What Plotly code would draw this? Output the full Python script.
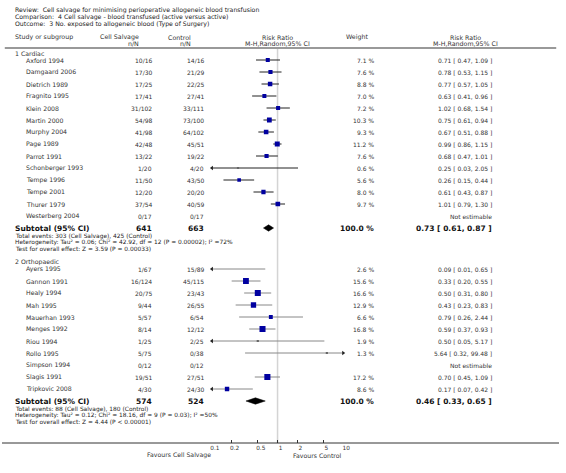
import plotly.graph_objects as go

W, H = 566, 473

# ---------------- data ----------------
title_lines = [
    "Review:  Cell salvage for minimising perioperative allogeneic blood transfusion",
    "Comparison:  4 Cell salvage - blood transfused (active versus active)",
    "Outcome:  3 No. exposed to allogeneic blood (Type of Surgery)",
]

g1_name = "1 Cardiac"
g1_studies = ["Axford 1994", "Damgaard 2006", "Dietrich 1989", "Fragnito 1995", "Klein 2008",
              "Martin 2000", "Murphy 2004", "Page 1989", "Parrot 1991", "Schonberger 1993",
              "Tempe 1996", "Tempe 2001", "Thurer 1979", "Westerberg 2004"]
g1_cs = ["10/16", "17/30", "17/25", "17/41", "31/102", "54/98", "41/98", "42/48", "13/22",
         "1/20", "11/50", "12/20", "37/54", "0/17"]
g1_ctrl = ["14/16", "21/29", "22/25", "27/41", "33/111", "73/100", "64/102", "45/51", "19/22",
           "4/20", "43/50", "20/20", "40/59", "0/17"]
g1_weight = [7.1, 7.6, 8.8, 7.0, 7.2, 10.3, 9.3, 11.2, 7.6, 0.6, 5.6, 8.0, 9.7, None]
g1_rr = [0.71, 0.78, 0.77, 0.63, 1.02, 0.75, 0.67, 0.99, 0.68, 0.25, 0.26, 0.61, 1.01, None]
g1_lo = [0.47, 0.53, 0.57, 0.41, 0.68, 0.61, 0.51, 0.86, 0.47, 0.03, 0.15, 0.43, 0.79, None]
g1_hi = [1.09, 1.15, 1.05, 0.96, 1.54, 0.94, 0.88, 1.15, 1.01, 2.05, 0.44, 0.87, 1.30, None]
g1_sub = dict(cs="641", ctrl="663", weight=100.0, rr=0.73, lo=0.61, hi=0.87)
g1_foot = ["Total events: 303 (Cell Salvage), 425 (Control)",
           "Heterogeneity: Tau² = 0.06; Chi² = 42.92, df = 12 (P = 0.00002); I² =72%",
           "Test for overall effect: Z = 3.59 (P = 0.00033)"]

g2_name = "2 Orthopaedic"
g2_studies = ["Ayers 1995", "Gannon 1991", "Healy 1994", "Mah 1995", "Mauerhan 1993",
              "Menges 1992", "Riou 1994", "Rollo 1995", "Simpson 1994", "Slagis 1991",
              "Tripkovic 2008"]
g2_cs = ["1/67", "16/124", "20/75", "9/44", "5/57", "8/14", "1/25", "5/75", "0/12", "19/51", "4/30"]
g2_ctrl = ["15/89", "45/115", "23/43", "26/55", "6/54", "12/12", "2/25", "0/38", "0/12", "27/51", "24/30"]
g2_weight = [2.6, 15.6, 16.6, 12.9, 6.6, 16.8, 1.9, 1.3, None, 17.2, 8.6]
g2_rr = [0.09, 0.33, 0.50, 0.43, 0.79, 0.59, 0.50, 5.64, None, 0.70, 0.17]
g2_lo = [0.01, 0.20, 0.31, 0.23, 0.26, 0.37, 0.05, 0.32, None, 0.45, 0.07]
g2_hi = [0.65, 0.55, 0.80, 0.83, 2.44, 0.93, 5.17, 99.48, None, 1.09, 0.42]
g2_sub = dict(cs="574", ctrl="524", weight=100.0, rr=0.46, lo=0.33, hi=0.65)
g2_foot = ["Total events: 88 (Cell Salvage), 180 (Control)",
           "Heterogeneity: Tau² = 0.12; Chi² = 18.16, df = 9 (P = 0.03); I² =50%",
           "Test for overall effect: Z = 4.44 (P < 0.00001)"]

tick_vals = [0.1, 0.2, 0.5, 1, 2, 5, 10]
tick_text = ["0.1", "0.2", "0.5", "1", "2", "5", "10"]
left_label = "Favours Cell Salvage"
right_label = "Favours Control"
AX_MIN, AX_MAX = 0.1, 10

# ---------------- layout constants (pixels) ----------------
FONT = "DejaVu Sans"
ROW = 12
X_NAME_GRP = 12
X_NAME = 23
X_CS = 153
X_CTRL = 206
X_W = 379
X_RR = 499
PLOT_L, PLOT_R = 213.3, 346.7
Y_AXIS = 443
Y_HEADLINE = 48
FOOT_STEP = 6.6

fig = go.Figure()
ann = []


def text(x, y, s, size=6.0, anchor="left", bold=False, color="#333"):
    ann.append(dict(x=x / W, xref="paper", y=y, yref="y", text=("<b>%s</b>" % s) if bold else s,
                    showarrow=False, xanchor=anchor, yanchor="middle", borderpad=0,
                    font=dict(family=FONT, size=size, color=color)))


def fmt_ci(rr, lo, hi):
    return "%.2f [ %.2f, %.2f ]" % (rr, lo, hi)


# title
for i, s in enumerate(title_lines):
    text(X_NAME_GRP, 10 + 7 * i, s, size=6.2, color="#222")

# header
HS = 6.3
text(X_NAME_GRP, 37, "Study or subgroup", size=HS)
text(140, 37, "Cell Salvage", size=HS, anchor="right")
text(140, 43, "n/N", size=HS, anchor="right")
text(193, 37, "Control", size=HS, anchor="right")
text(193, 43, "n/N", size=HS, anchor="right")
text((PLOT_L + PLOT_R) / 2, 37, "Risk Ratio", size=HS, anchor="center")
text((PLOT_L + PLOT_R) / 2, 43, "M-H,Random,95% CI", size=HS, anchor="center")
text(361, 37, "Weight", size=HS, anchor="center")
text(471, 37, "Risk Ratio", size=HS, anchor="center")
text(471, 43, "M-H,Random,95% CI", size=HS, anchor="center")


def draw_group(name, y_label, studies, cs, ctrl, weight, rr, lo, hi, sub, foot, line_color):
    text(X_NAME_GRP, y_label, name, size=6.2)
    y0 = y_label + 7
    for i, st in enumerate(studies):
        y = y0 + ROW * i
        text(X_NAME, y, st, size=6.2)
        text(X_CS, y, cs[i], size=6, anchor="right")
        text(X_CTRL, y, ctrl[i], size=6, anchor="right")
        if rr[i] is None:
            text(X_RR, y, "Not estimable", size=6, anchor="right")
            continue
        text(X_W, y, "%.1f %%" % weight[i], size=6, anchor="right")
        text(X_RR, y, fmt_ci(rr[i], lo[i], hi[i]), size=6, anchor="right")
        # CI line
        fig.add_trace(go.Scatter(x=[lo[i], hi[i]], y=[y, y], mode="lines",
                                 line=dict(color=line_color, width=1), hoverinfo="skip"))
        # arrows where CI leaves axis range
        if lo[i] < AX_MIN:
            fig.add_trace(go.Scatter(x=[AX_MIN], y=[y], mode="markers", cliponaxis=False,
                                     marker=dict(symbol="triangle-left", size=4, color="#222"),
                                     hoverinfo="skip"))
        if hi[i] > AX_MAX:
            fig.add_trace(go.Scatter(x=[AX_MAX], y=[y], mode="markers", cliponaxis=False,
                                     marker=dict(symbol="triangle-right", size=4, color="#222"),
                                     hoverinfo="skip"))
        # square
        if AX_MIN <= rr[i] <= AX_MAX:
            sz = 1.4 * weight[i] ** 0.5 + 0.3
            col = "#0000a0" if weight[i] >= 2.5 else "#666"
            fig.add_trace(go.Scatter(x=[rr[i]], y=[y], mode="markers",
                                     marker=dict(symbol="square", size=max(sz, 2.2), color=col,
                                                 line=dict(width=0)),
                                     hoverinfo="skip"))
    ys = y0 + ROW * len(studies)
    text(X_NAME_GRP, ys, "Subtotal (95% CI)", size=7.5, bold=True, color="#111")
    text(X_CS, ys, sub["cs"], size=7.5, anchor="right", bold=True, color="#111")
    text(X_CTRL, ys, sub["ctrl"], size=7.5, anchor="right", bold=True, color="#111")
    text(X_W, ys, "%.1f %%" % sub["weight"], size=7.5, anchor="right", bold=True, color="#111")
    text(X_RR, ys, fmt_ci(sub["rr"], sub["lo"], sub["hi"]), size=7.5, anchor="right", bold=True,
         color="#111")
    dh = 3.2
    fig.add_trace(go.Scatter(x=[sub["lo"], sub["rr"], sub["hi"], sub["rr"], sub["lo"]],
                             y=[ys, ys - dh, ys, ys + dh, ys], mode="lines", fill="toself",
                             fillcolor="#000", line=dict(color="#000", width=0.5),
                             hoverinfo="skip"))
    for k, s in enumerate(foot):
        text(X_NAME_GRP, ys + 8.2 + FOOT_STEP * k, s, size=5.9, color="#222")


draw_group(g1_name, 53, g1_studies, g1_cs, g1_ctrl, g1_weight, g1_rr, g1_lo, g1_hi,
           g1_sub, g1_foot, "#222")
draw_group(g2_name, 262, g2_studies, g2_cs, g2_ctrl, g2_weight, g2_rr, g2_lo, g2_hi,
           g2_sub, g2_foot, "#888")

# bottom labels
text(PLOT_L, 455, left_label, size=6.2, anchor="right")
text(PLOT_R, 455, right_label, size=6.2, anchor="right")

shapes = [
    dict(type="line", xref="paper", yref="y", x0=0.005, x1=0.995, y0=Y_HEADLINE, y1=Y_HEADLINE,
         line=dict(color="#999", width=2)),
    dict(type="line", xref="x", yref="y", x0=1, x1=1, y0=Y_HEADLINE + 1, y1=Y_AXIS,
         line=dict(color="#d4d4d4", width=1.5), layer="below"),
    dict(type="line", xref="paper", yref="y", x0=0, x1=1, y0=Y_AXIS, y1=Y_AXIS,
         line=dict(color="#333", width=1)),
]

fig.update_layout(
    width=W, height=H, autosize=False,
    margin=dict(l=0, r=0, t=0, b=0),
    paper_bgcolor="white", plot_bgcolor="white",
    showlegend=False,
    annotations=ann, shapes=shapes,
    xaxis=dict(type="log", range=[-1, 1], domain=[PLOT_L / W, PLOT_R / W],
               anchor="free", position=1 - Y_AXIS / H,
               tickvals=tick_vals, ticktext=tick_text, ticks="inside", ticklen=3,
               tickcolor="#333", tickwidth=1, ticklabelshift=3,
               tickfont=dict(family=FONT, size=5.8, color="#333"),
               showgrid=False, zeroline=False, showline=False, fixedrange=True),
    yaxis=dict(range=[H, 0], domain=[0, 1], visible=False, fixedrange=True),
)

fig.write_html("out.html", config={"displayModeBar": False, "staticPlot": True},
               post_script="document.body.style.margin='0';document.body.style.overflow='hidden';")
